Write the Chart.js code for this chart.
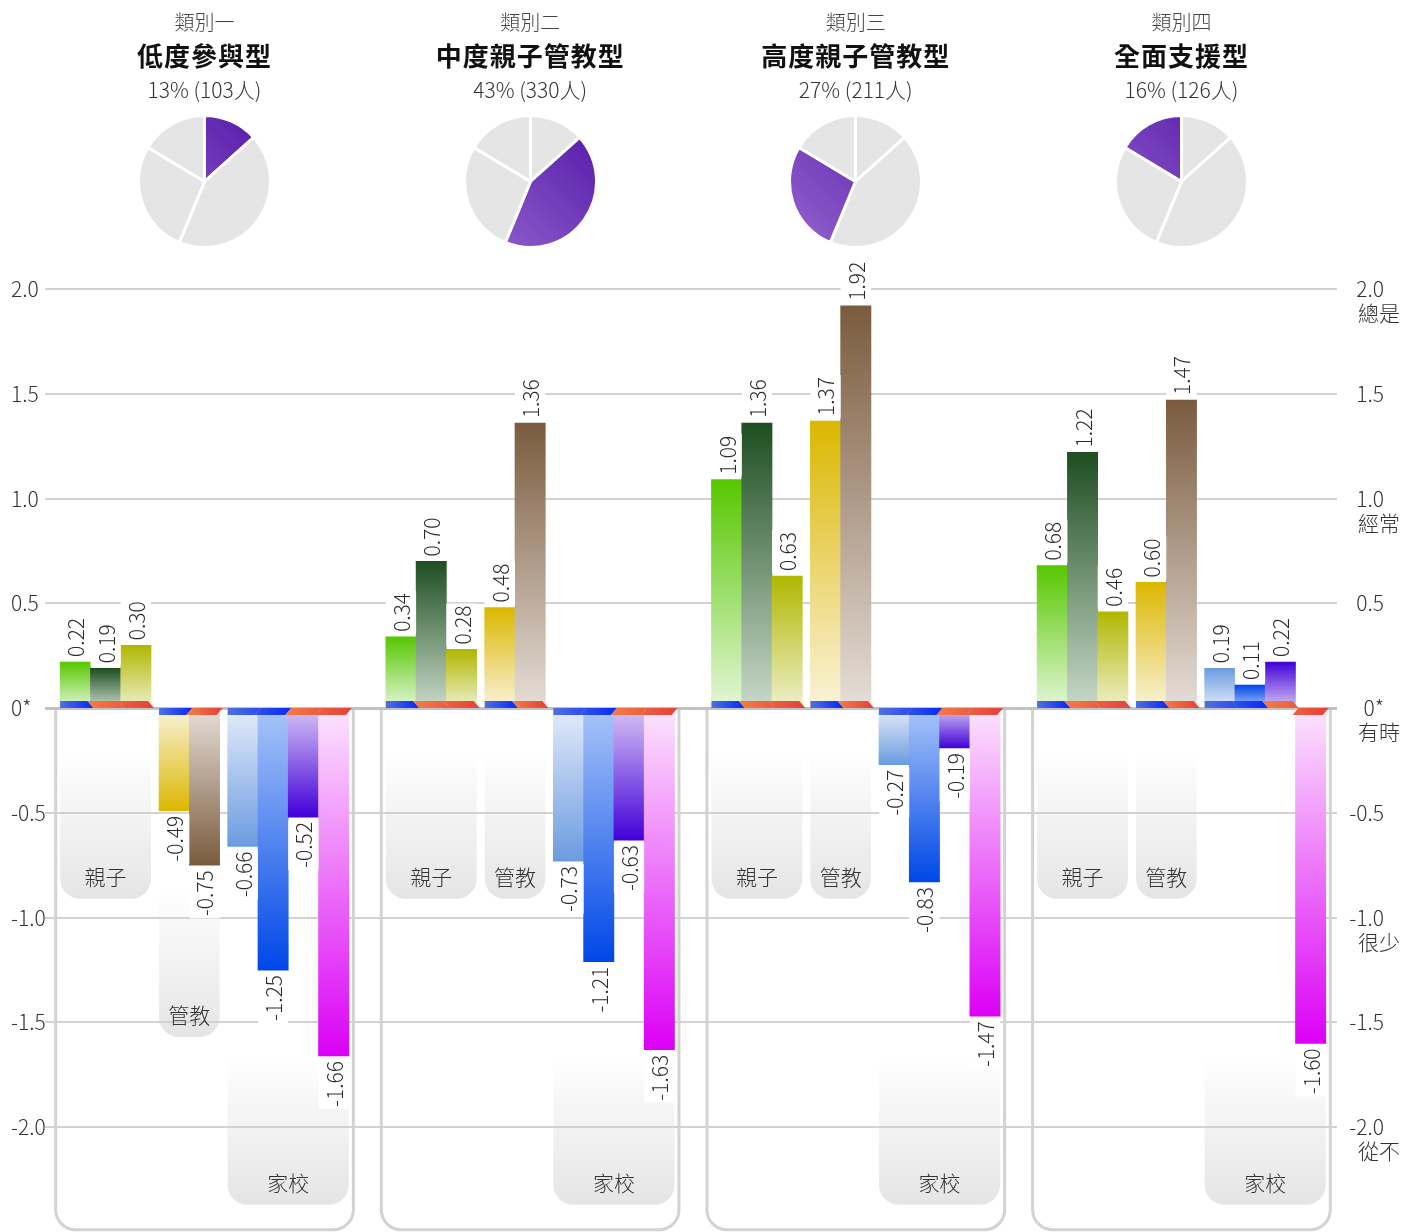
<!DOCTYPE html>
<html lang="zh-Hant">
<head>
<meta charset="utf-8">
<title>家長參與類型</title>
<script src="https://cdn.jsdelivr.net/npm/chart.js@4.4.1/dist/chart.umd.min.js"></script>
<style>
  html, body { margin: 0; padding: 0; background: #fff; }
  body {
    width: 1419px; height: 1232px; overflow: hidden; position: relative;
    font-family: "Noto Sans CJK TC", "Noto Sans", sans-serif;
  }
  #main { position: absolute; left: 0; top: 0; }
  .head { position: absolute; transform: translateX(-50%); text-align: center; white-space: nowrap; }
  .kind { top: 9px; font-size: 20px; line-height: 25px; color: #444; font-weight: 300; }
  .type { top: 39px; font-size: 26px; line-height: 31px; color: #111; font-weight: 700; letter-spacing: 1px; }
  .share { top: 76px; font-size: 21px; line-height: 26px; color: #333; font-weight: 300; }
  .pie { position: absolute; }
</style>
</head>
<body>
<canvas id="main" width="1419" height="1232"></canvas>

<script>
// four parent types
const kinds = ['類別一', '類別二', '類別三', '類別四'];
const typeNames = ['低度參與型', '中度親子管教型', '高度親子管教型', '全面支援型'];
const sharePct = [13, 43, 27, 16];
const headCount = [103, 330, 211, 126];

const groupNames = ['親子', '管教', '家校'];

// standardised scores, one value per type
const qinzi1 = [0.22, 0.34, 1.09, 0.68];
const qinzi2 = [0.19, 0.70, 1.36, 1.22];
const qinzi3 = [0.30, 0.28, 0.63, 0.46];
const guanjiao1 = [-0.49, 0.48, 1.37, 0.60];
const guanjiao2 = [-0.75, 1.36, 1.92, 1.47];
const jiaxiao1 = [-0.66, -0.73, -0.27, 0.19];
const jiaxiao2 = [-1.25, -1.21, -0.83, 0.11];
const jiaxiao3 = [-0.52, -0.63, -0.19, 0.22];
const jiaxiao4 = [-1.66, -1.63, -1.47, -1.60];

// frequency words on the right axis
const freqValues = [2, 1, 0, -1, -2];
const freqWords = ['總是', '經常', '有時', '很少', '從不'];

const groupSeries = [
  [qinzi1, qinzi2, qinzi3],
  [guanjiao1, guanjiao2],
  [jiaxiao1, jiaxiao2, jiaxiao3, jiaxiao4]
];

// [tip colour, colour at zero]
const seriesColors = [
  ['#57c700', '#e4f6d8'],
  ['#1e4e21', '#c9d9c9'],
  ['#b0b700', '#eef0cc'],
  ['#dbb700', '#faf3da'],
  ['#7a5b3e', '#e6ded8'],
  ['#6b9be0', '#e4ecfa'],
  ['#0047e8', '#a9c5f8'],
  ['#4100d8', '#d6c3f5'],
  ['#dc00f6', '#fce4fd']
];

const FONT = '"Noto Sans CJK TC", "Noto Sans", sans-serif';
Chart.defaults.font.family = FONT;

// x layout in bar widths
const SUB_GAP = 0.265;
const CLUSTER_GAP = 1.22;
const EDGE_L = 0.5;
const EDGE_R = 0.37;
const CLUSTER_SPAN = 9 + 2 * SUB_GAP;
const X_MAX = EDGE_L + 4 * CLUSTER_SPAN + 3 * CLUSTER_GAP + EDGE_R;

// panel bottoms (in score units) by how deep a group goes
const PANEL_DEPTHS = [-0.91, -1.57, -2.37];

const bars = [];
const runs = [];
kinds.forEach((k, c) => {
  let x = EDGE_L + c * (CLUSTER_SPAN + CLUSTER_GAP);
  let s = 0;
  groupSeries.forEach((list, g) => {
    const run = { c, g, idx: [] };
    list.forEach(values => {
      run.idx.push(bars.length);
      bars.push({ x: x + 0.5, y: values[c], s });
      x += 1;
      s++;
    });
    const min = Math.min(...run.idx.map(i => bars[i].y));
    run.depth = min >= -0.5 ? PANEL_DEPTHS[0] : min >= -1 ? PANEL_DEPTHS[1] : PANEL_DEPTHS[2];
    runs.push(run);
    x += SUB_GAP;
  });
});

function tickText(v) {
  return v === 0 ? '0*' : v.toFixed(1);
}

function barFill(ctx) {
  const b = bars[ctx.dataIndex];
  if (!b) return '#ccc';
  const [tip, base] = seriesColors[b.s];
  const chart = ctx.chart;
  const y = chart.scales.y;
  if (!chart.chartArea || !y) return tip;
  const y0 = y.getPixelForValue(0);
  const y1 = y.getPixelForValue(b.y);
  const grad = chart.ctx.createLinearGradient(0, y1, 0, y0);
  grad.addColorStop(0, tip);
  grad.addColorStop(1, base);
  return grad;
}

function runEdges(meta, run) {
  const first = meta.data[run.idx[0]];
  const last = meta.data[run.idx[run.idx.length - 1]];
  return [first.x - first.width / 2, last.x + last.width / 2];
}

const STRIP = 7;
const SLANT = 3;

const decorPlugin = {
  id: 'decor',
  beforeDraw(chart) {
    const ctx = chart.ctx;
    const y = chart.scales.y;
    const meta = chart.getDatasetMeta(0);
    const y0 = y.getPixelForValue(0);
    ctx.save();
    // grey label panels under every group
    runs.forEach(run => {
      const [l, r] = runEdges(meta, run);
      const bottom = y.getPixelForValue(run.depth);
      const g = ctx.createLinearGradient(0, bottom - 150, 0, bottom);
      g.addColorStop(0, '#ffffff');
      g.addColorStop(1, '#e5e5e5');
      const rad = 20;
      ctx.beginPath();
      ctx.moveTo(l, y0);
      ctx.lineTo(r, y0);
      ctx.lineTo(r, bottom - rad);
      ctx.arcTo(r, bottom, r - rad, bottom, rad);
      ctx.lineTo(l + rad, bottom);
      ctx.arcTo(l, bottom, l, bottom - rad, rad);
      ctx.closePath();
      ctx.fillStyle = g;
      ctx.fill();
    });
    // outline around each type
    kinds.forEach((k, c) => {
      const mine = runs.filter(r => r.c === c);
      const l = runEdges(meta, mine[0])[0] - 4.5;
      const r = runEdges(meta, mine[mine.length - 1])[1] + 4.5;
      const deepest = Math.max(...mine.map(m => y.getPixelForValue(m.depth)));
      const bottom = deepest + 25;
      const rad = 20;
      ctx.beginPath();
      ctx.moveTo(l, y0);
      ctx.lineTo(l, bottom - rad);
      ctx.arcTo(l, bottom, l + rad, bottom, rad);
      ctx.lineTo(r - rad, bottom);
      ctx.arcTo(r, bottom, r, bottom - rad, rad);
      ctx.lineTo(r, y0);
      ctx.strokeStyle = '#d3d3d3';
      ctx.lineWidth = 3;
      ctx.stroke();
    });
    ctx.restore();
  },
  afterDatasetsDraw(chart) {
    const ctx = chart.ctx;
    const y = chart.scales.y;
    const meta = chart.getDatasetMeta(0);
    const yZ = y.getPixelForValue(0);
    ctx.save();
    // blue / orange strips on the zero line
    runs.forEach(run => {
      const els = run.idx.map(i => meta.data[i]);
      const nBlue = Math.floor(els.length / 2);
      const [L, R] = runEdges(meta, run);
      const M = els[nBlue].x - els[nBlue].width / 2;
      const blue = ctx.createLinearGradient(L, 0, M, 0);
      blue.addColorStop(0, '#5070e0');
      blue.addColorStop(1, '#0a2ef6');
      const orange = ctx.createLinearGradient(M, 0, R, 0);
      orange.addColorStop(0, '#f37a46');
      orange.addColorStop(1, '#e5433a');
      els.forEach((el, j) => {
        const up = bars[run.idx[j]].y >= 0;
        const far = up ? yZ - STRIP : yZ + STRIP;
        const l = el.x - el.width / 2;
        const r = el.x + el.width / 2;
        const lz = j === 0 ? l : l + SLANT;
        const lf = j === 0 ? l : l - SLANT;
        ctx.beginPath();
        ctx.moveTo(lz, yZ);
        ctx.lineTo(r + SLANT, yZ);
        ctx.lineTo(r - SLANT, far);
        ctx.lineTo(lf, far);
        ctx.closePath();
        ctx.fillStyle = j < nBlue ? blue : orange;
        ctx.fill();
      });
    });
    // rotated value labels
    ctx.font = '300 21px ' + FONT;
    ctx.textBaseline = 'middle';
    meta.data.forEach((el, i) => {
      const v = bars[i].y;
      const txt = v.toFixed(2);
      const w = ctx.measureText(txt).width;
      const left = el.x - el.width / 2;
      ctx.fillStyle = '#fff';
      if (v >= 0) {
        ctx.fillRect(left, el.y - 7 - w, el.width, w + 4);
      } else {
        ctx.fillRect(left, el.y + 3, el.width, w + 4);
      }
      ctx.save();
      ctx.translate(el.x, v >= 0 ? el.y - 5 : el.y + 5);
      ctx.rotate(-Math.PI / 2);
      ctx.textAlign = v >= 0 ? 'left' : 'right';
      ctx.fillStyle = '#2b2b2b';
      ctx.fillText(txt, 0, 1);
      ctx.restore();
    });
    ctx.restore();
  },
  afterDraw(chart) {
    const ctx = chart.ctx;
    const y = chart.scales.y;
    const meta = chart.getDatasetMeta(0);
    ctx.save();
    ctx.font = '300 21px ' + FONT;
    ctx.fillStyle = '#333';
    ctx.textBaseline = 'middle';
    ctx.textAlign = 'center';
    runs.forEach(run => {
      const [l, r] = runEdges(meta, run);
      ctx.fillText(groupNames[run.g], (l + r) / 2, y.getPixelForValue(run.depth) - 22);
    });
    ctx.textAlign = 'left';
    freqValues.forEach((v, i) => {
      ctx.fillText(freqWords[i], chart.scales.y2.left + 21, y.getPixelForValue(v) + 24);
    });
    ctx.restore();
  }
};

const axisFont = { size: 21, weight: 300 };

const chart = new Chart(document.getElementById('main'), {
  type: 'bar',
  data: {
    datasets: [{
      data: bars,
      backgroundColor: barFill,
      borderWidth: 0,
      barPercentage: 1,
      categoryPercentage: 1
    }]
  },
  options: {
    responsive: false,
    animation: false,
    events: [],
    layout: { padding: { top: 289, left: 11, right: 35, bottom: 0 } },
    plugins: { legend: { display: false }, tooltip: { enabled: false } },
    scales: {
      x: { type: 'linear', min: 0, max: X_MAX, offset: false, display: false },
      y: {
        position: 'left',
        min: -2.5,
        max: 2,
        ticks: { stepSize: 0.5, crossAlign: 'far', padding: 0, color: '#333', font: axisFont, callback: tickText },
        grid: {
          drawTicks: false,
          color: c => (c.tick && c.tick.value === 0 ? '#c2c2c2' : '#d2d2d2'),
          lineWidth: c => (c.tick && c.tick.value === 0 ? 3 : 2)
        },
        border: { display: false },
        afterBuildTicks: s => { s.ticks = s.ticks.filter(t => t.value >= -2); },
        afterFit: s => { s.width = 34; s.paddingTop = 0; s.paddingBottom = 0; }
      },
      y2: {
        position: 'right',
        min: -2.5,
        max: 2,
        ticks: { stepSize: 0.5, crossAlign: 'far', padding: 0, color: '#333', font: axisFont, callback: tickText },
        grid: { display: false, drawTicks: false },
        border: { display: false },
        afterBuildTicks: s => { s.ticks = s.ticks.filter(t => t.value >= -2); },
        afterFit: s => { s.width = 47; s.paddingTop = 0; s.paddingBottom = 0; }
      }
    }
  },
  plugins: [decorPlugin]
});

// headings and pies above each type
const PIE = 135;
kinds.forEach((k, c) => {
  const mid = EDGE_L + c * (CLUSTER_SPAN + CLUSTER_GAP) + CLUSTER_SPAN / 2;
  const cx = chart.scales.x.getPixelForValue(mid);

  [['kind', k], ['type', typeNames[c]], ['share', sharePct[c] + '% (' + headCount[c] + '人)']].forEach(([cls, text]) => {
    const div = document.createElement('div');
    div.className = 'head ' + cls;
    div.style.left = cx + 'px';
    div.textContent = text;
    document.body.appendChild(div);
  });

  const cv = document.createElement('canvas');
  cv.className = 'pie';
  cv.width = PIE;
  cv.height = PIE;
  cv.style.left = (cx - PIE / 2) + 'px';
  cv.style.top = (181.5 - PIE / 2) + 'px';
  document.body.appendChild(cv);

  new Chart(cv, {
    type: 'pie',
    data: {
      labels: typeNames,
      datasets: [{
        data: headCount,
        backgroundColor: ctx => {
          if (ctx.dataIndex !== c) return '#e5e5e5';
          const a = ctx.chart.chartArea;
          if (!a) return '#6a2cb8';
          const g = ctx.chart.ctx.createLinearGradient(a.right, a.top, a.left, a.bottom);
          g.addColorStop(0, '#5216a8');
          g.addColorStop(1, '#9666ce');
          return g;
        },
        borderColor: '#fff',
        borderWidth: 3
      }]
    },
    options: {
      responsive: false,
      animation: false,
      events: [],
      plugins: { legend: { display: false }, tooltip: { enabled: false } }
    }
  });
});
</script>
</body>
</html>
